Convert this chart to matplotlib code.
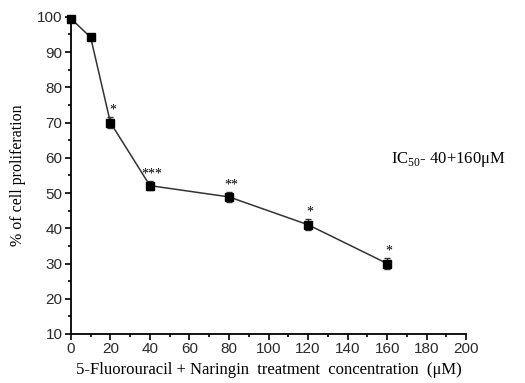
import matplotlib
matplotlib.use("Agg")
import matplotlib.pyplot as plt
from matplotlib.ticker import MultipleLocator

plt.rcParams["mathtext.fontset"] = "custom"
plt.rcParams["mathtext.rm"] = "Liberation Serif"

# concentration (uM) vs % proliferation
conc = [0, 10, 20, 40, 80, 120, 160]
prolif = [99.5, 94.2, 70.0, 52.1, 48.9, 41.0, 30.0]
err = [0.0, 0.0, 1.5, 1.2, 1.4, 1.5, 1.6]
stars = ["", "", "*", "***", "**", "*", "*"]

fig = plt.figure(figsize=(5.25, 3.83), dpi=100)
ax = fig.add_axes([0.135, 0.128, 0.753, 0.828])

ax.errorbar(conc, prolif, yerr=err, color="#333333", lw=1.1, marker="s",
            ms=5.5, mfc="black", mec="black", ecolor="#333333",
            elinewidth=1, capsize=2.5, capthick=1, clip_on=False)

for x, y, e, s in zip(conc, prolif, err, stars):
    if s:
        ax.text(x + 1, y + e + 0.2, s, ha="center", va="bottom", fontsize=10,
                family="Liberation Serif")

ax.text(162, 59.5, "IC$_{\\mathrm{50}}$- 40+160\u03bcM", fontsize=12,
        family="Liberation Serif", ha="left", va="center")

ax.set_xlim(0, 200)
ax.set_ylim(10, 100)
ax.xaxis.set_major_locator(MultipleLocator(20))
ax.xaxis.set_minor_locator(MultipleLocator(10))
ax.yaxis.set_major_locator(MultipleLocator(10))
ax.yaxis.set_minor_locator(MultipleLocator(5))
ax.spines["top"].set_visible(False)
ax.spines["right"].set_visible(False)
ax.spines["left"].set_linewidth(1.3)
ax.spines["bottom"].set_linewidth(1.3)
ax.tick_params(which="major", direction="out", length=4, width=1.2,
               labelsize=11, pad=2)
ax.tick_params(which="minor", direction="out", length=2.5, width=1.2)
for lbl in ax.get_xticklabels() + ax.get_yticklabels():
    lbl.set_family("Liberation Sans")
    lbl.set_color("#2a2a2a")

ax.set_xlabel("5-Fluorouracil + Naringin  treatment  concentration  (\u03bcM)",
              family="Liberation Serif", fontsize=12, labelpad=4)
ax.set_ylabel("% of cell proliferation", family="Liberation Serif",
              fontsize=11.5, labelpad=8)

fig.savefig("out.png", dpi=100)
